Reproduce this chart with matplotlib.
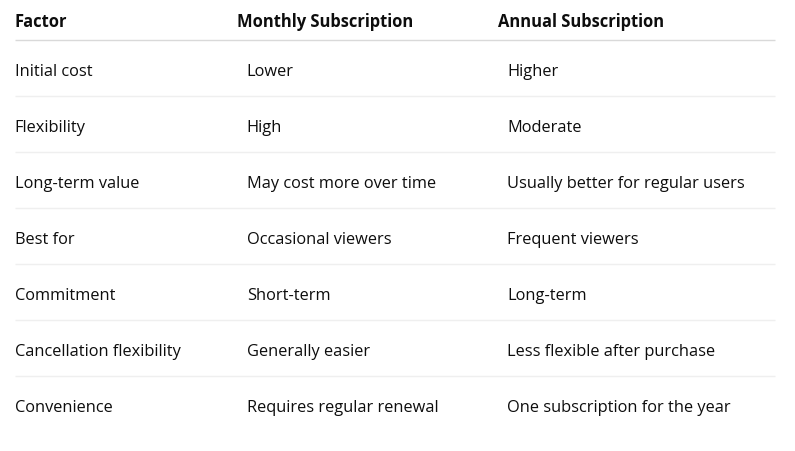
import matplotlib.pyplot as plt

plt.rcParams['font.family'] = ['Open Sans', 'DejaVu Sans']

headers = ["Factor", "Monthly Subscription", "Annual Subscription"]
factors = ["Initial cost", "Flexibility", "Long-term value", "Best for", "Commitment",
           "Cancellation flexibility", "Convenience"]
monthly = ["Lower", "High", "May cost more over time", "Occasional viewers", "Short-term",
           "Generally easier", "Requires regular renewal"]
annual = ["Higher", "Moderate", "Usually better for regular users", "Frequent viewers", "Long-term",
          "Less flexible after purchase", "One subscription for the year"]

W, H = 795, 451
fig = plt.figure(figsize=(W / 100, H / 100), dpi=100)
ax = fig.add_axes([0, 0, 1, 1])
ax.set_xlim(0, W)
ax.set_ylim(H, 0)
ax.axis('off')

fs = 11.8
header_fs = 11.9
header_x = [14.8, 236.8, 497.5]
col_x = [14.8, 246.8, 507]
ink = '#0d0d0d'

for x, h in zip(header_x, headers):
    ax.text(x, 26.6, h, fontsize=header_fs, fontweight='bold', color=ink, va='baseline', ha='left')
ax.plot([15, 774.5], [40, 40], color='#d9d9d9', lw=1, solid_capstyle='butt')

# una fila cada 56 px
for i in range(len(factors)):
    y = 75.6 + 56 * i
    ax.text(col_x[0], y, factors[i], fontsize=fs, color=ink, va='baseline', ha='left')
    ax.text(col_x[1], y, monthly[i], fontsize=fs, color=ink, va='baseline', ha='left')
    ax.text(col_x[2], y, annual[i], fontsize=fs, color=ink, va='baseline', ha='left')
    if i < len(factors) - 1:
        ax.plot([15, 774.5], [96 + 56 * i, 96 + 56 * i], color='#efefef', lw=1, solid_capstyle='butt')

fig.savefig("out.png", dpi=100)
